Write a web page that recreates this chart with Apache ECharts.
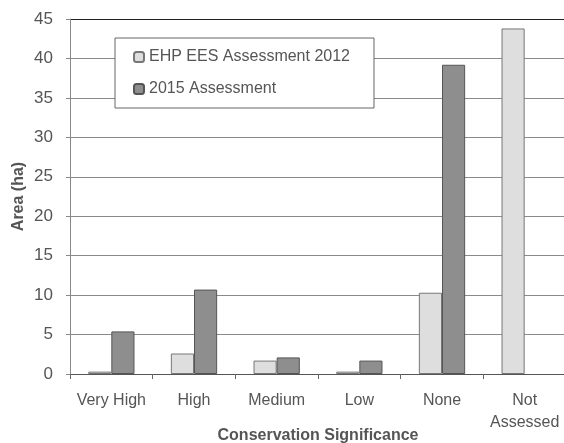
<!DOCTYPE html>
<html lang="en">
<head>
<meta charset="utf-8" />
<title>Conservation Significance</title>
<script src="https://cdn.jsdelivr.net/npm/echarts@6/dist/echarts.min.js"></script>
<style>
  html, body { margin: 0; padding: 0; background: #fff; }
</style>
</head>
<body>
<div id="box" style="width:564px;height:443px;"></div>
<script>
    // categories and values
    var categories = ['Very High', 'High', 'Medium', 'Low', 'None', 'Not\nAssessed'];
    var ees2012 = [0.3, 2.6, 1.7, 0.3, 10.3, 43.8];
    var assess2015 = [5.4, 10.7, 2.1, 1.7, 39.2, null];
    var yTicks = [0, 5, 10, 15, 20, 25, 30, 35, 40, 45];

    var font = 'Liberation Sans';
    var txt = '#555';

    // grid line colours, bottom to top (top border is dark in the original)
    var gridColors = yTicks.map(function (v) { return v === 45 ? '#222' : '#8a8a8a'; });

    var myChart = echarts.init(document.getElementById('box'));
    var option = {
        animation: false,
        textStyle: { fontFamily: font },
        legend: {
            orient: 'vertical',
            left: 115,
            top: 38,
            padding: [11, 24, 11, 18],
            itemGap: 16,
            itemWidth: 10,
            itemHeight: 10,
            backgroundColor: '#fff',
            borderColor: '#666',
            borderWidth: 1,
            textStyle: { fontSize: 16, color: txt, fontFamily: font },
            data: ['EHP EES Assessment 2012', '2015 Assessment']
        },
        grid: {
            left: 70,
            right: -2,
            top: 19,
            bottom: 69,
            outerBoundsMode: 'none',
            containLabel: false
        },
        xAxis: {
            type: 'category',
            data: categories,
            name: 'Conservation Significance',
            nameLocation: 'middle',
            nameGap: 54,
            nameMoveOverlap: false,
            nameTextStyle: { fontSize: 16, fontWeight: 'bold', color: txt, fontFamily: font },
            axisLine: { lineStyle: { color: '#555' } },
            axisTick: { show: true, length: 5, lineStyle: { color: '#666' } },
            axisLabel: { fontSize: 16, color: txt, margin: 16, lineHeight: 22, interval: 0 }
        },
        yAxis: {
            type: 'value',
            min: 0,
            max: 45,
            interval: 5,
            name: 'Area (ha)',
            nameLocation: 'middle',
            nameGap: 43,
            nameMoveOverlap: false,
            nameRotate: 90,
            nameTextStyle: { fontSize: 16, fontWeight: 'bold', color: txt, fontFamily: font },
            axisLine: { show: true, lineStyle: { color: '#888' } },
            axisTick: { show: true, length: 4, lineStyle: { color: '#888' } },
            axisLabel: {
                fontSize: 17, color: txt, margin: 17,
                formatter: function (v) { return yTicks.indexOf(v) >= 0 ? String(v) : ''; }
            },
            splitLine: { lineStyle: { color: gridColors, width: 1 } }
        },
        series: [
            {
                name: 'EHP EES Assessment 2012',
                type: 'bar',
                data: ees2012,
                barGap: '0%',
                barCategoryGap: '44%',
                itemStyle: { color: '#dedede', borderColor: '#777', borderWidth: 1 }
            },
            {
                name: '2015 Assessment',
                type: 'bar',
                data: assess2015,
                itemStyle: { color: '#8e8e8e', borderColor: '#555', borderWidth: 1 }
            }
        ]
    };
    myChart.setOption(option);
</script>
</body>
</html>
